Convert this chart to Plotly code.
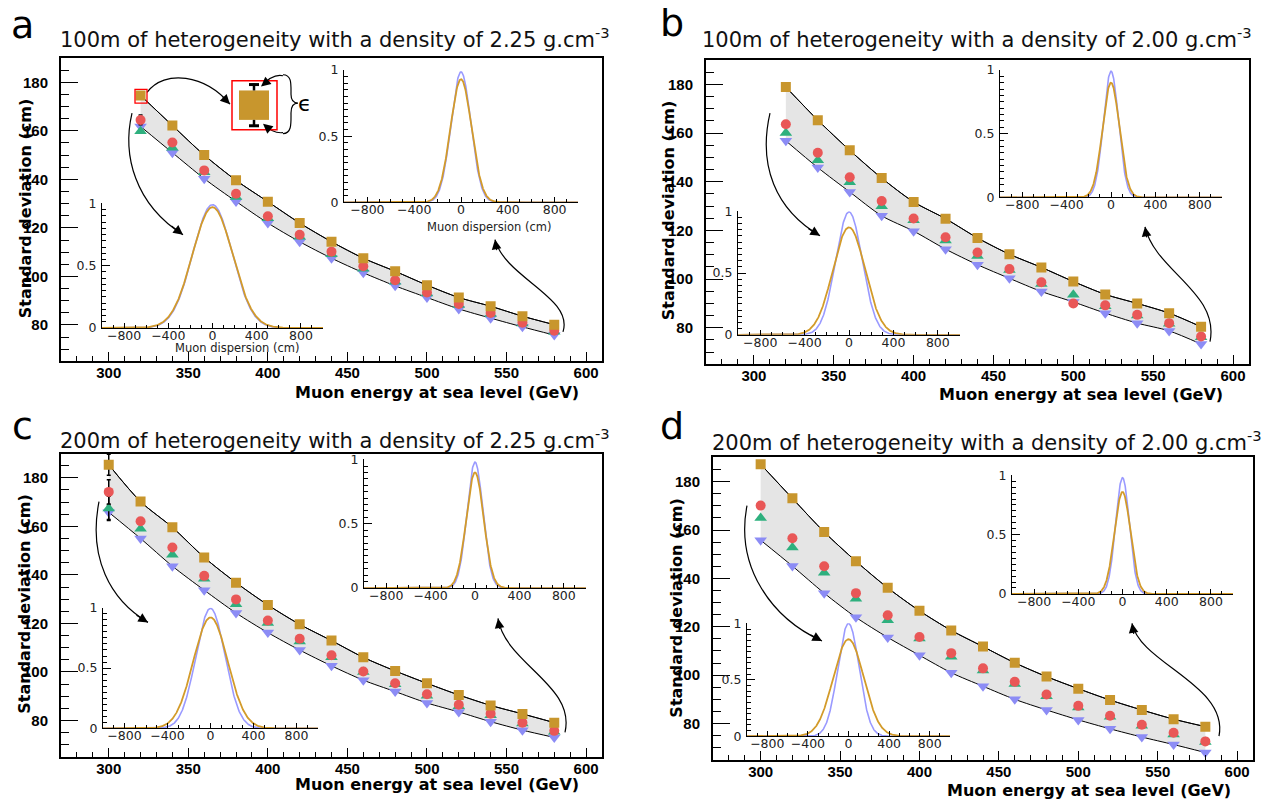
import numpy as np
import plotly.graph_objects as go

W, H = 1268, 808

# ------------------------------------------------------------------ data
energy_ab = [320, 340, 360, 380, 400, 420, 440, 460, 480, 500, 520, 540, 560, 580]
energy_cd = [300, 320, 340, 360, 380, 400, 420, 440, 460, 480, 500, 520, 540, 560, 580]

# panel a : 100 m, 2.25 g/cm3
sq_a = [174.6, 162.2, 150.0, 139.6, 130.8, 122.0, 114.3, 107.5, 102.1, 96.4, 91.3, 87.7, 83.6, 80.1]
rd_a = [164.5, 155.2, 143.7, 134.1, 124.8, 117.2, 110.2, 104.2, 98.4, 93.4, 88.6, 84.9, 80.9, 77.6]
gr_a = [159.8, 153.0, 142.9, 132.7, 124.0, 116.3, 109.1, 103.2, 97.8, 93.0, 88.2, 84.5, 80.6, 77.2]
bl_a = [161.8, 151.0, 140.3, 130.9, 122.0, 114.3, 107.5, 101.5, 96.1, 91.3, 86.6, 82.8, 79.2, 75.8]

# panel b : 100 m, 2.00 g/cm3
sq_b = [178.9, 165.3, 152.9, 141.5, 131.7, 124.8, 116.9, 110.2, 104.8, 99.0, 93.7, 90.0, 86.0, 80.4]
rd_b = [163.6, 151.9, 141.8, 132.1, 124.9, 117.2, 110.9, 104.1, 98.7, 90.0, 89.2, 85.3, 81.9, 76.4]
gr_b = [160.0, 148.8, 139.8, 129.9, 124.2, 115.8, 109.5, 103.7, 98.0, 93.6, 88.8, 85.0, 81.6, 76.1]
bl_b = [156.8, 145.8, 135.8, 126.0, 119.7, 112.3, 105.9, 100.3, 94.9, 90.6, 86.0, 81.9, 78.7, 73.3]

# panel c : 200 m, 2.25 g/cm3
sq_c = [185.4, 170.2, 159.6, 147.2, 136.8, 127.6, 119.6, 112.9, 106.0, 100.4, 95.3, 90.5, 86.2, 82.7, 79.1]
rd_c = [174.2, 162.1, 151.3, 139.6, 129.9, 121.2, 113.7, 106.9, 100.2, 95.3, 90.8, 86.5, 82.8, 79.1, 75.7]
gr_c = [167.4, 159.0, 148.3, 138.4, 127.9, 120.2, 112.5, 106.0, 100.0, 94.9, 90.2, 85.8, 82.1, 78.7, 75.3]
bl_c = [165.8, 155.0, 143.6, 133.7, 124.3, 116.2, 109.0, 102.5, 96.6, 91.9, 87.2, 83.5, 79.5, 76.0, 73.0]

# panel d : 200 m, 2.00 g/cm3
sq_d = [187.2, 173.1, 159.2, 147.1, 136.1, 126.6, 118.5, 111.8, 105.1, 99.4, 94.4, 89.7, 85.6, 81.8, 78.7]
rd_d = [170.1, 156.6, 145.0, 133.9, 124.8, 115.8, 109.1, 102.8, 97.3, 92.0, 87.3, 83.2, 79.5, 76.2, 72.6]
gr_d = [165.0, 152.8, 142.3, 131.6, 122.7, 115.2, 107.6, 101.9, 96.3, 91.3, 86.6, 82.8, 79.1, 75.5, 72.4]
bl_d = [155.8, 145.1, 133.9, 123.9, 115.6, 108.2, 101.0, 95.4, 90.0, 85.6, 81.5, 77.8, 74.4, 71.3, 68.0]

# error on the first (lowest-energy) point of each series: square, circle, up-triangle, down-triangle
first_err_a = [1.5, 2.0, 0.0, 0.0]
first_err_b = [1.0, 1.2, 0.0, 0.0]
first_err_c = [4.3, 5.0, 5.0, 3.0]
first_err_d = [1.0, 1.5, 0.0, 0.0]

titles = [
    "100m of heterogeneity with a density of 2.25 g.cm<sup>-3</sup>",
    "100m of heterogeneity with a density of 2.00 g.cm<sup>-3</sup>",
    "200m of heterogeneity with a density of 2.25 g.cm<sup>-3</sup>",
    "200m of heterogeneity with a density of 2.00 g.cm<sup>-3</sup>",
]
letters = ["a", "b", "c", "d"]

# fitted Gaussian muon dispersion profiles in the insets (order: a-low, a-high, b-low, b-high, ...)
inset_blue_amp = [0.99, 0.985, 0.995, 0.99, 0.995, 0.98, 1.0, 0.98]
inset_blue_sigma = [178, 85, 120, 68, 135, 72, 105, 62]
inset_orange_amp = [0.97, 0.93, 0.87, 0.90, 0.92, 0.90, 0.86, 0.86]
inset_orange_sigma = [182, 90, 145, 76, 160, 78, 150, 72]

# ------------------------------------------------------------------ style
C_SQ = "#c8962d"
C_RD = "#e95757"
C_GR = "#2eb07e"
C_BL = "#8c8cf5"
C_GBL = "#9a9aff"
C_GOR = "#d39b2a"
BAND = "#e5e5e5"


def X(px):
    return px / W


def Y(py):
    return 1 - py / H


def dom_x(l, r):
    return [l / W, r / W]


def dom_y(t, b):
    return [1 - b / H, 1 - t / H]


# pixel boxes: (left, right, top, bottom)
main_boxes = [(61, 602, 51, 360), (706, 1249, 53, 363), (61, 602, 454, 763), (713, 1253, 458, 766)]
inset_boxes = [
    (102, 323, 199, 326), (344, 578, 63, 198),
    (738, 960, 207, 333), (1000, 1222, 63, 193),
    (103, 318, 611, 734), (364, 586, 460, 591),
    (747, 950, 627, 742), (1012, 1233, 476, 597),
]

panels = [
    (energy_ab, sq_a, rd_a, gr_a, bl_a, first_err_a),
    (energy_ab, sq_b, rd_b, gr_b, bl_b, first_err_b),
    (energy_cd, sq_c, rd_c, gr_c, bl_c, first_err_c),
    (energy_cd, sq_d, rd_d, gr_d, bl_d, first_err_d),
]


def ax_names(n):
    s = "" if n == 1 else str(n)
    return "xaxis" + s, "yaxis" + s, "x" + s, "y" + s


fig = go.Figure()
layout_axes = {}

for i, (E, sq, rd, gr, bl, ferr) in enumerate(panels):
    n = i + 1
    xa, ya, xr, yr = ax_names(n)
    l, r, t, b = main_boxes[i]
    layout_axes[xa] = dict(
        domain=dom_x(l, r), anchor=yr, range=[270, 610], showline=True, mirror=True,
        linecolor="black", linewidth=2, ticks="inside", ticklen=9, tickwidth=1.2,
        tickcolor="black", dtick=50, tick0=0, showgrid=False, zeroline=False,
        minor=dict(ticks="inside", ticklen=5, dtick=10, tickcolor="black", tickwidth=1, showgrid=False),
        tickfont=dict(family="Liberation Sans", size=15, color="black", weight="bold"),
        ticklabelstandoff=-3,
    )
    layout_axes[ya] = dict(
        domain=dom_y(t, b), anchor=xr, range=[65, 190], showline=True, mirror=True,
        linecolor="black", linewidth=2, ticks="inside", ticklen=17, tickwidth=1.2,
        tickcolor="black", dtick=20, tick0=0, showgrid=False, zeroline=False,
        minor=dict(ticks="inside", ticklen=8, dtick=5, tickcolor="black", tickwidth=1, showgrid=False),
        tickfont=dict(family="Liberation Sans", size=15, color="black", weight="bold"),
        ticklabelstandoff=8,
    )
    common = dict(xaxis=xr, yaxis=yr, hoverinfo="skip")
    # band between the two fitted curves
    fig.add_trace(go.Scatter(x=E, y=sq, mode="lines",
                             line=dict(color="black", width=1, shape="spline", smoothing=0.8), **common))
    fig.add_trace(go.Scatter(x=E, y=bl, mode="lines", fill="tonexty", fillcolor=BAND,
                             line=dict(color="black", width=1, shape="spline", smoothing=0.8), **common))
    fig.add_trace(go.Scatter(x=E, y=sq, mode="lines",
                             line=dict(color="black", width=1, shape="spline", smoothing=0.8), **common))
    nE = len(E)
    for vals, col, sym, sz, e0 in [
        (bl, C_BL, "triangle-down", 11, ferr[3]),
        (gr, C_GR, "triangle-up", 11, ferr[2]),
        (rd, C_RD, "circle", 10, ferr[1]),
        (sq, C_SQ, "square", 10, ferr[0]),
    ]:
        err = [e0] + [0.0] * (nE - 1)
        fig.add_trace(go.Scatter(
            x=E, y=vals, mode="markers",
            marker=dict(symbol=sym, size=sz, color=col, line=dict(width=0)),
            error_y=dict(type="data", array=err, color="black", thickness=1.5, width=2, visible=True),
            **common))

# insets
gx = np.linspace(-1000, 1000, 801)
for k in range(8):
    n = 5 + k
    xa, ya, xr, yr = ax_names(n)
    l, r, t, b = inset_boxes[k]
    layout_axes[xa] = dict(
        domain=dom_x(l, r), anchor=yr, range=[-1000, 1000], showline=True, linecolor="black",
        linewidth=1, ticks="inside", ticklen=5, tickcolor="black", dtick=400, tick0=0,
        showgrid=False, zeroline=False,
        minor=dict(ticks="inside", ticklen=3, dtick=100, tickcolor="black", showgrid=False),
        tickfont=dict(family="DejaVu Sans", size=12.5, color="#222"), ticklabelstandoff=-4,
    )
    layout_axes[ya] = dict(
        domain=dom_y(t, b), anchor=xr, range=[0, 1.001], showline=True, linecolor="black",
        linewidth=1, ticks="inside", ticklen=8, tickcolor="black", dtick=0.5, tick0=0,
        showgrid=False, zeroline=False,
        minor=dict(ticks="inside", ticklen=4, dtick=0.05, tickcolor="black", showgrid=False),
        tickfont=dict(family="DejaVu Sans", size=12.5, color="#222"), ticklabelstandoff=2,
    )
    yb = inset_blue_amp[k] * np.exp(-0.5 * (gx / inset_blue_sigma[k]) ** 2)
    yo = inset_orange_amp[k] * np.exp(-0.5 * (gx / inset_orange_sigma[k]) ** 2)
    fig.add_trace(go.Scatter(x=gx, y=yb, mode="lines", line=dict(color=C_GBL, width=1.6),
                             xaxis=xr, yaxis=yr, hoverinfo="skip"))
    fig.add_trace(go.Scatter(x=gx, y=yo, mode="lines", line=dict(color=C_GOR, width=1.8),
                             xaxis=xr, yaxis=yr, hoverinfo="skip"))

# ------------------------------------------------------------------ annotations
ann = []
title_pos = [(58, 31), (700, 31), (58, 439), (710, 441)]
letter_pos = [(22, 17), (672, 15), (22, 426), (672, 426)]
ytitle_pos = [(25, 205), (668, 207), (25, 608), (677, 612)]
xtitle_pos = [(581, 392), (1225, 394), (581, 791), (1233, 797)]
for i in range(4):
    ann.append(dict(x=X(title_pos[i][0]), y=Y(title_pos[i][1]), xref="paper", yref="paper",
                    text=titles[i], showarrow=False, xanchor="left", yanchor="middle",
                    font=dict(family="DejaVu Sans", size=21, color="#111")))
    ann.append(dict(x=X(letter_pos[i][0]), y=Y(letter_pos[i][1]), xref="paper", yref="paper",
                    text=letters[i], showarrow=False, xanchor="center", yanchor="middle",
                    font=dict(family="DejaVu Sans", size=38, color="black")))
    ann.append(dict(x=X(ytitle_pos[i][0]), y=Y(ytitle_pos[i][1]), xref="paper", yref="paper",
                    text="Standard deviation (cm)", showarrow=False, textangle=-90,
                    xanchor="center", yanchor="middle",
                    font=dict(family="DejaVu Sans", size=16, color="black", weight="bold")))
    ann.append(dict(x=X(xtitle_pos[i][0]), y=Y(xtitle_pos[i][1]), xref="paper", yref="paper",
                    text="Muon energy at sea level (GeV)", showarrow=False,
                    xanchor="right", yanchor="middle",
                    font=dict(family="DejaVu Sans", size=16, color="black", weight="bold")))

for (cx, cy) in [(237, 346), (489, 223)]:
    ann.append(dict(x=X(cx), y=Y(cy), xref="paper", yref="paper", text="Muon dispersion (cm)",
                    showarrow=False, xanchor="center", yanchor="middle",
                    font=dict(family="DejaVu Sans", size=11.5, color="#222")))

ann.append(dict(x=X(305), y=Y(97), xref="paper", yref="paper", text="\u03f5", showarrow=False,
                xanchor="center", yanchor="middle", font=dict(family="DejaVu Sans", size=22, color="black")))

# curved arrows: path (pixel control points) + arrowhead (tip, tail offset)
curves = [
    ((132, 107), (122, 150), (135, 200), (183, 231), (-13, -10)),
    ((563, 330), (574, 295), (505, 275), (495, 236), (2, 12)),
    ((770, 107), (758, 160), (775, 205), (820, 232), (-13, -8)),
    ((1210, 340), (1220, 290), (1155, 268), (1145, 223), (2, 12)),
    ((99, 503), (88, 560), (110, 603), (148, 626), (-13, -8)),
    ((565, 738), (576, 690), (505, 668), (498, 622), (2, 12)),
    ((747, 507), (735, 570), (772, 622), (822, 645), (-13, -7)),
    ((1219, 742), (1229, 690), (1140, 668), (1132, 627), (2, 12)),
    ((147, 86), (165, 62), (205, 68), (230, 98), (-9, -9)),
    ((283, 69), (275, 67), (268, 72), (261, 80), (6, -5)),
    ((283, 127), (275, 128), (269, 124), (263, 118), (6, 5)),
]
shapes = []
for p0, c1, c2, p3, off in curves:
    path = "M {},{} C {},{} {},{} {},{}".format(X(p0[0]), Y(p0[1]), X(c1[0]), Y(c1[1]),
                                               X(c2[0]), Y(c2[1]), X(p3[0]), Y(p3[1]))
    shapes.append(dict(type="path", path=path, xref="paper", yref="paper",
                       line=dict(color="black", width=1.2)))
    ann.append(dict(x=X(p3[0]), y=Y(p3[1]), xref="paper", yref="paper", text="", showarrow=True,
                    ax=off[0], ay=off[1], arrowhead=2, arrowsize=1.6, arrowwidth=1.2,
                    arrowcolor="black"))

# brace "}"
brace = "M {},{} C {},{} {},{} {},{} C {},{} {},{} {},{} C {},{} {},{} {},{} C {},{} {},{} {},{}".format(
    X(283), Y(68), X(292), Y(68), X(291), Y(78), X(291), Y(88),
    X(291), Y(94), X(293), Y(97), X(298), Y(97),
    X(293), Y(97), X(291), Y(100), X(291), Y(107),
    X(291), Y(117), X(292), Y(128), X(283), Y(128))
shapes.append(dict(type="path", path=brace, xref="paper", yref="paper", line=dict(color="black", width=1.2)))

# magnifier boxes
shapes.append(dict(type="rect", xref="paper", yref="paper", x0=X(135), x1=X(147), y0=Y(97), y1=Y(83),
                   line=dict(color="red", width=1.3)))
shapes.append(dict(type="rect", xref="paper", yref="paper", x0=X(232), x1=X(277), y0=Y(124), y1=Y(74),
                   line=dict(color="red", width=1.5), fillcolor="white"))
shapes.append(dict(type="rect", xref="paper", yref="paper", x0=X(239), x1=X(269), y0=Y(114), y1=Y(84),
                   line=dict(width=0), fillcolor=C_SQ))
for (ya0, ya1) in [(77, 84), (114, 121)]:
    shapes.append(dict(type="line", xref="paper", yref="paper", x0=X(254), x1=X(254), y0=Y(ya0), y1=Y(ya1),
                       line=dict(color="black", width=2.5)))
for yc in [78, 120]:
    shapes.append(dict(type="line", xref="paper", yref="paper", x0=X(249), x1=X(259), y0=Y(yc), y1=Y(yc),
                       line=dict(color="black", width=3)))

fig.update_layout(
    width=W, height=H, margin=dict(l=0, r=0, t=0, b=0), autosize=False,
    paper_bgcolor="white", plot_bgcolor="rgba(0,0,0,0)", showlegend=False,
    font=dict(family="DejaVu Sans", color="black"),
    annotations=ann, shapes=shapes, **layout_axes,
)

fig.write_html("out.html", config={"displayModeBar": False},
               post_script="document.body.style.margin='0px';document.body.style.overflow='hidden';")
